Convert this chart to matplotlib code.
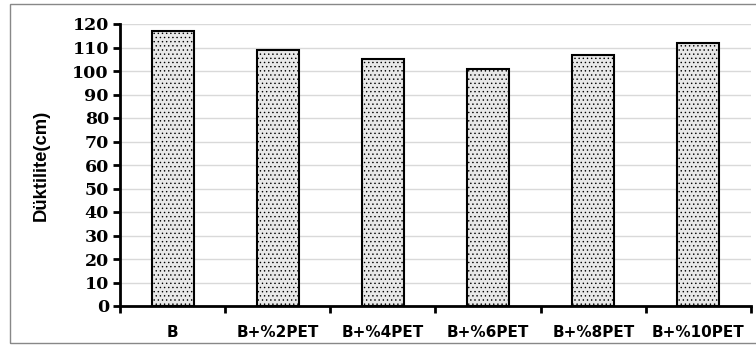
import matplotlib.pyplot as plt
import matplotlib as mpl
from matplotlib.patches import Rectangle

categories = ['B', 'B+%2PET', 'B+%4PET', 'B+%6PET', 'B+%8PET', 'B+%10PET']
values = [117, 109, 105, 101, 107, 112]
yticks = list(range(0, 121, 10))

mpl.rcParams['hatch.color'] = '#333333'
mpl.rcParams['hatch.linewidth'] = 0.5

fig = plt.figure(figsize=(7.56, 3.47), dpi=100)
fig.patches.append(Rectangle((10 / 756, 4 / 347), 760 / 756, 339 / 347, transform=fig.transFigure,
                             fill=False, edgecolor='#888888', linewidth=1))
ax = fig.add_axes([120 / 756, 41 / 347, 631 / 756, 282 / 347])

x = range(len(categories))
ax.bar(x, values, width=0.4, color='#e8e8e8', edgecolor='black', linewidth=1.5, hatch='....', zorder=3)

ax.set_xlim(-0.5, len(categories) - 0.5)
ax.set_ylim(0, 120)
ax.set_yticks(yticks)
ax.set_yticklabels([str(t) for t in yticks], fontfamily='DejaVu Serif', fontweight='bold', fontsize=12.5)
ax.grid(axis='y', color='#d9d9d9', linewidth=1, zorder=0)

ax.set_xticks(list(x))
ax.set_xticklabels(categories, fontfamily='DejaVu Sans', fontweight='bold', fontsize=11)
ax.set_xticks([i - 0.5 for i in range(len(categories) + 1)], minor=True)
ax.tick_params(axis='x', which='major', length=0, pad=14)
ax.tick_params(axis='x', which='minor', length=5, width=2, direction='out')
ax.tick_params(axis='y', length=5, width=2, direction='out', pad=3)

for s in ['top', 'right']:
    ax.spines[s].set_visible(False)
ax.spines['left'].set_linewidth(2)
ax.spines['bottom'].set_linewidth(2)

ax.set_ylabel('Düktilite(cm)', fontfamily='Liberation Sans', fontweight='bold', fontsize=13.3)
ax.yaxis.set_label_coords(-0.112, 0.5)

fig.savefig('out.png', dpi=100)
